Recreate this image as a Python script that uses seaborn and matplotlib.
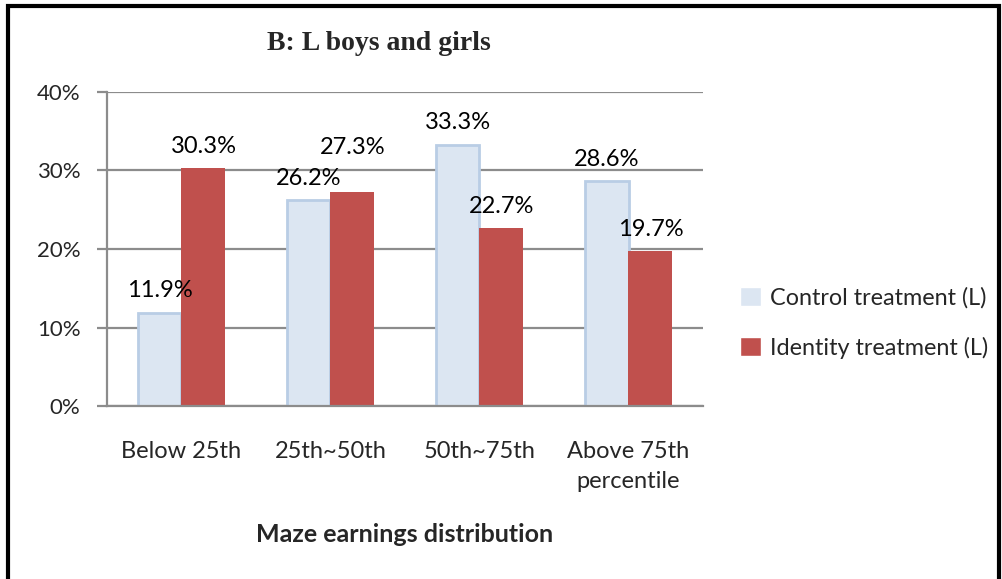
import matplotlib
matplotlib.use("Agg")
import matplotlib.pyplot as plt
import seaborn as sns
import pandas as pd
from matplotlib.patches import Rectangle

categories = ["Below 25th", "25th~50th", "50th~75th", "Above 75th\npercentile"]
control = [11.9, 26.2, 33.3, 28.6]
identity = [30.3, 27.3, 22.7, 19.7]
series = ["Control treatment (L)", "Identity treatment (L)"]
yticks = [0, 10, 20, 30, 40]

df = pd.DataFrame({
    "cat": categories * 2,
    "val": control + identity,
    "grp": [series[0]] * 4 + [series[1]] * 4,
})

sns.set_style("white")
plt.rcParams["font.family"] = ["Lato", "DejaVu Sans"]

fig = plt.figure(figsize=(10.03, 5.79), dpi=100)
ax = fig.add_axes([107 / 1003, 1 - 406 / 579, 596 / 1003, 314 / 579])

sns.barplot(data=df, x="cat", y="val", hue="grp", ax=ax, width=0.59,
            palette=["#DCE6F2", "#C0504D"], saturation=1, legend=True)

for i, cont in enumerate(ax.containers):
    for p in cont:
        if i == 0:
            p.set_edgecolor("#B9CDE5")
            p.set_linewidth(2)
        else:
            p.set_edgecolor("none")
    anns = ax.bar_label(cont, labels=[f"{v:.1f}%" for v in cont.datavalues],
                        padding=8, fontsize=17, color="black")
    if i == 1:
        # excel nudged this label up to clear its neighbour
        anns[1].xyann = (0, 24)

ax.set_ylim(0, 40)
ax.set_xlim(-0.5, 3.5)
ax.set_yticks(yticks)
ax.set_yticklabels([f"{t}%" for t in yticks], fontsize=16)
ax.yaxis.grid(True, color="#8C8C8C", linewidth=1.6)
ax.set_axisbelow(True)
ax.tick_params(axis="y", length=7, width=1.6, color="#8C8C8C", left=True, pad=12)
ax.tick_params(axis="x", labelsize=17, length=0, pad=25)
for lbl in ax.get_xticklabels():
    lbl.set_linespacing(1.55)
for s in ["top", "right"]:
    ax.spines[s].set_visible(False)
for s in ["left", "bottom"]:
    ax.spines[s].set_color("#8C8C8C")
    ax.spines[s].set_linewidth(1.6)
ax.set_xlabel("Maze earnings distribution", fontsize=18, fontweight="bold", labelpad=22)
ax.set_ylabel("")

leg = ax.legend(loc="center left", bbox_to_anchor=(1.027, 0.265), frameon=False,
                fontsize=16.8, handlelength=0.9, handleheight=0.9, labelspacing=1.2,
                handletextpad=0.4)

fig.text(379 / 1003, 1 - 43 / 579, "B: L boys and girls", ha="center", va="center",
         fontsize=20, fontweight="bold", family="Liberation Serif")

fig.patches.append(Rectangle((8 / 1003, -0.05), 991 / 1003, 1.05 - 6 / 579,
                             transform=fig.transFigure, fill=False,
                             edgecolor="black", linewidth=3))

fig.savefig("out.png", dpi=100)
